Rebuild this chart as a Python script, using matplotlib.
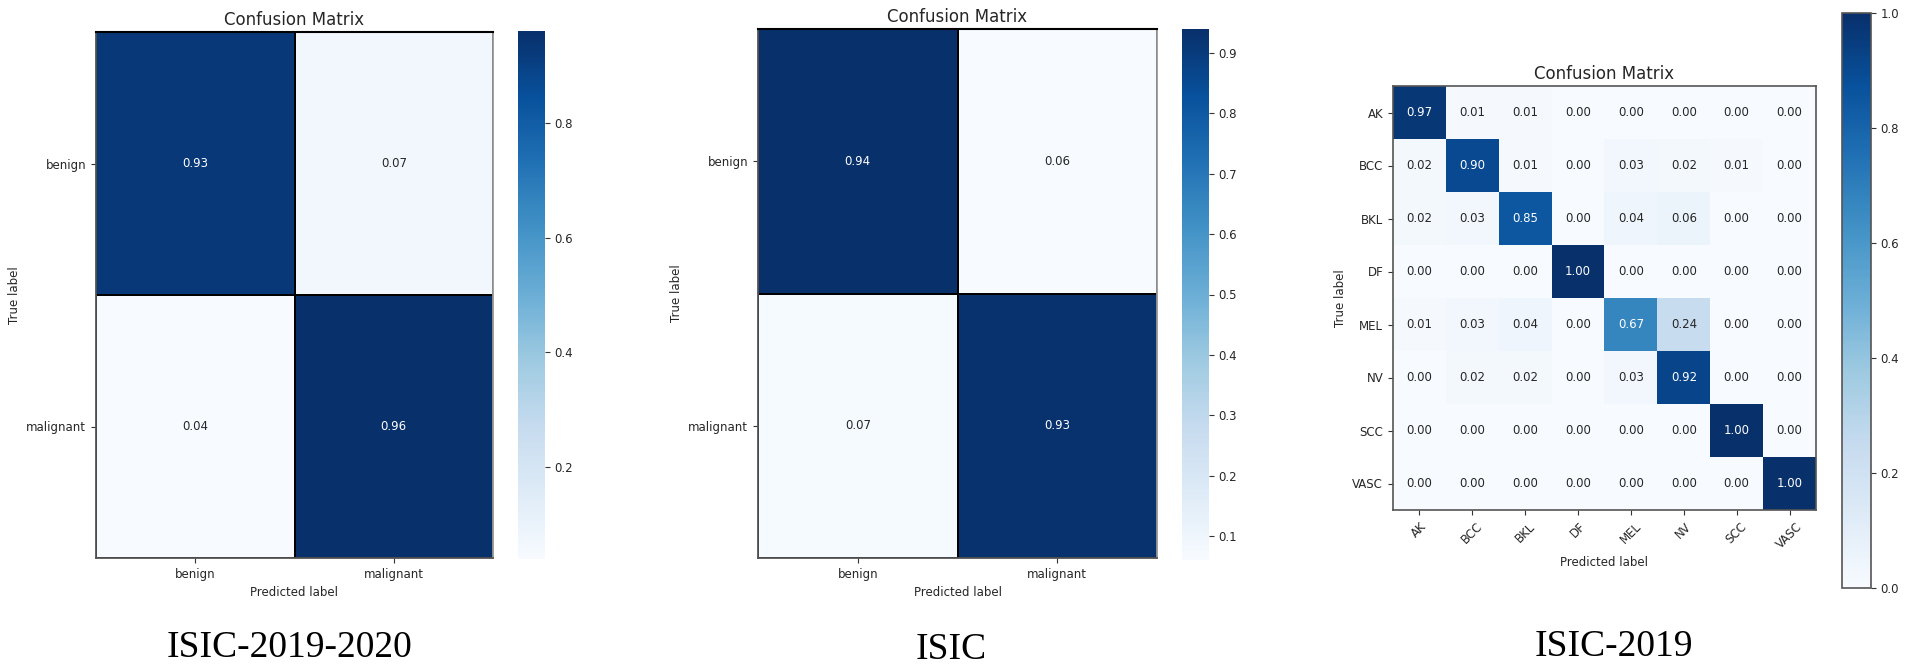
import numpy as np
import matplotlib
matplotlib.use("Agg")
import matplotlib.pyplot as plt

# ---------------- data ----------------
labels_binary = ["benign", "malignant"]
cm_isic_2019_2020 = [[0.93, 0.07],
                     [0.04, 0.96]]
cm_isic = [[0.94, 0.06],
           [0.07, 0.93]]

labels_multi = ["AK", "BCC", "BKL", "DF", "MEL", "NV", "SCC", "VASC"]
cm_isic_2019 = [
    [0.97, 0.01, 0.01, 0.00, 0.00, 0.00, 0.00, 0.00],
    [0.02, 0.90, 0.01, 0.00, 0.03, 0.02, 0.01, 0.00],
    [0.02, 0.03, 0.85, 0.00, 0.04, 0.06, 0.00, 0.00],
    [0.00, 0.00, 0.00, 1.00, 0.00, 0.00, 0.00, 0.00],
    [0.01, 0.03, 0.04, 0.00, 0.67, 0.24, 0.00, 0.00],
    [0.00, 0.02, 0.02, 0.00, 0.03, 0.92, 0.00, 0.00],
    [0.00, 0.00, 0.00, 0.00, 0.00, 0.00, 1.00, 0.00],
    [0.00, 0.00, 0.00, 0.00, 0.00, 0.00, 0.00, 1.00],
]
captions = ["ISIC-2019-2020", "ISIC", "ISIC-2019"]

# ---------------- layout ----------------
W, H = 1905, 668
fig = plt.figure(figsize=(W / 100, H / 100), dpi=100)
fig.patch.set_facecolor("white")

TXT = "#262626"
plt.rcParams["font.family"] = ["DejaVu Sans"]


def ax_px(l, r, t, b):
    return fig.add_axes([l / W, 1 - b / H, (r - l) / W, (b - t) / H])


def style_ticks(ax, size=8.5):
    ax.tick_params(axis="both", labelsize=size, colors="#333333",
                   labelcolor=TXT, length=3.5, width=0.8)


def binary_panel(cm, box, cbox):
    data = np.array(cm)
    ax = ax_px(*box)
    mesh = ax.pcolormesh(data, cmap="Blues", edgecolors="black", linewidth=1.3)
    ax.set_xlim(0, data.shape[1])
    ax.set_ylim(data.shape[0], 0)
    n = data.shape[0]
    ax.set_xticks(np.arange(n) + 0.5)
    ax.set_yticks(np.arange(n) + 0.5)
    ax.set_xticklabels(labels_binary)
    ax.set_yticklabels(labels_binary)
    thresh = (data.max() + data.min()) / 2
    for i in range(n):
        for j in range(n):
            ax.text(j + 0.5, i + 0.5, f"{data[i, j]:.2f}", ha="center", va="center",
                    fontsize=8.5, color="white" if data[i, j] > thresh else TXT)
    for s in ["left", "bottom"]:
        ax.spines[s].set_color("#555555")
        ax.spines[s].set_linewidth(1.3)
    ax.spines["right"].set_color("#9a9a9a")
    ax.spines["right"].set_linewidth(1.3)
    ax.spines["top"].set_color("black")
    ax.spines["top"].set_linewidth(1.5)
    style_ticks(ax)
    ax.set_xlabel("Predicted label", fontsize=8.5, color=TXT, labelpad=4)
    ax.set_ylabel("True label", fontsize=8.5, color=TXT)
    ax.set_title("Confusion Matrix", fontsize=12, color=TXT, pad=5)
    cax = ax_px(*cbox)
    cb = fig.colorbar(mesh, cax=cax)
    cb.outline.set_visible(False)
    cax.tick_params(labelsize=8.5, colors="#333333", labelcolor=TXT, length=3.5, width=0.8)
    return ax


binary_panel(cm_isic_2019_2020, (96, 493, 32, 558), (518, 545, 31, 559))
binary_panel(cm_isic, (758, 1157, 29, 558), (1182, 1209, 29, 560))

# multi-class panel
data3 = np.array(cm_isic_2019)
ax3 = ax_px(1393, 1816, 86, 510)
im = ax3.imshow(data3, cmap="Blues", vmin=0, vmax=1, interpolation="nearest", aspect="auto")
k = len(labels_multi)
ax3.set_xticks(np.arange(k))
ax3.set_yticks(np.arange(k))
ax3.set_xticklabels(labels_multi, rotation=45)
ax3.set_yticklabels(labels_multi)
for i in range(k):
    for j in range(k):
        v = data3[i, j]
        ax3.text(j, i, f"{v:.2f}", ha="center", va="center", fontsize=8.5,
                 color="white" if v > 0.5 else TXT)
for s in ax3.spines.values():
    s.set_color("#555555")
    s.set_linewidth(1.2)
style_ticks(ax3)
ax3.set_xlabel("Predicted label", fontsize=8.5, color=TXT, labelpad=4)
ax3.set_ylabel("True label", fontsize=8.5, color=TXT)
ax3.set_title("Confusion Matrix", fontsize=12, color=TXT, pad=5)
cax3 = ax_px(1842, 1871, 13, 588)
cb3 = fig.colorbar(im, cax=cax3)
cb3.outline.set_edgecolor("#555555")
cb3.outline.set_linewidth(1.2)
cb3.set_ticks([0.0, 0.2, 0.4, 0.6, 0.8, 1.0])
cax3.tick_params(labelsize=8.5, colors="#333333", labelcolor=TXT, length=3.5, width=0.8)

# captions
cap_pos = [(289, 648), (951, 650), (1614, 647)]
for text, (x, y) in zip(captions, cap_pos):
    fig.text(x / W, 1 - y / H, text, ha="center", va="center",
             fontsize=27, family="Liberation Serif", color="black")

fig.savefig("out.png", dpi=100, facecolor="white")
